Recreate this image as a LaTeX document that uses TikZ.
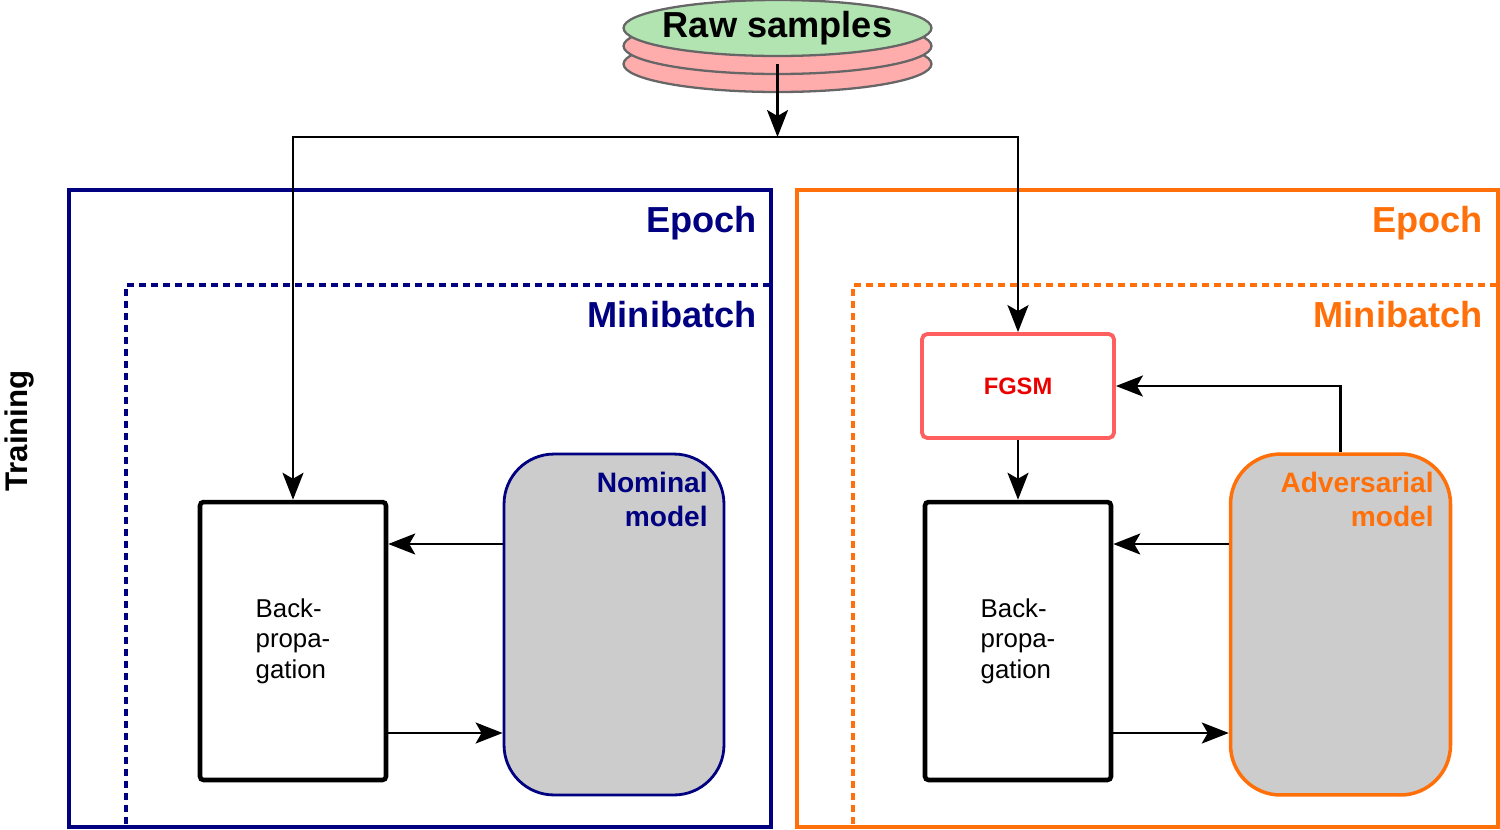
\documentclass[tikz,border=0pt]{standalone}
\usepackage{fontspec}
\setmainfont{Liberation Sans}
\usetikzlibrary{arrows.meta,shapes.geometric}
\definecolor{navyc}{RGB}{0,0,128}
\definecolor{orangec}{RGB}{255,112,10}
\definecolor{fgsmborder}{RGB}{255,95,95}
\definecolor{fgsmtext}{RGB}{235,0,0}
\definecolor{modelfill}{RGB}{204,204,204}
\definecolor{rawgreen}{RGB}{178,228,178}
\definecolor{rawred}{RGB}{255,172,172}
\definecolor{rawedge}{RGB}{102,102,102}
\begin{document}
\begin{tikzpicture}[x=0.02cm,y=-0.02cm,
  epochbox/.style={draw, line width=2.1pt, minimum width=14.04cm, minimum height=12.74cm, inner sep=0},
  mbbox/.style={draw, line width=2pt, dash pattern=on 0.15cm off 0.09cm, minimum width=12.9cm, minimum height=10.84cm, inner sep=0},
  lbl/.style={font=\fontsize{20.6pt}{24pt}\selectfont\bfseries, inner sep=0},
  modelbox/.style={rounded corners=1cm, fill=modelfill, minimum width=4.4cm, minimum height=6.82cm, inner sep=0},
  mlbl/.style={font=\fontsize{16pt}{19.8pt}\selectfont\bfseries, align=right, inner sep=0, anchor=east},
  bpbox/.style={draw=black, line width=2.6pt, rounded corners=2pt, minimum width=3.72cm, minimum height=5.56cm, align=left, inner sep=0, font=\fontsize{14.7pt}{17.3pt}\selectfont},
  fgsmbox/.style={draw=fgsmborder, line width=2.2pt, rounded corners=3pt, fill=white, minimum width=3.84cm, minimum height=2.08cm, inner sep=0, text=fgsmtext, font=\fontsize{13.5pt}{16pt}\selectfont\bfseries},
  rawell/.style={ellipse, draw=rawedge, line width=1.3pt, minimum width=6.16cm, minimum height=1.12cm, inner sep=0},
  conn/.style={draw=black, line width=1.4pt},
  arr/.style={conn, -{Stealth[length=0.54cm, width=0.42cm, inset=0.12cm]}}
]
\useasboundingbox (0,0) rectangle (1500,829);

% containers
\node[mbbox, draw=navyc] (mb1) at (448.5,556) {};
\node[epochbox, draw=navyc] (ep1) at (420,508.5) {};
\node[mbbox, draw=orangec] (mb2) at (1175.5,556) {};
\node[epochbox, draw=orangec, minimum width=14.02cm] (ep2) at (1147.5,508.5) {};

\node[lbl, text=navyc, anchor=base east] (ep1lbl) at (757,232) {Epoch};
\node[lbl, text=navyc, anchor=base east] (mb1lbl) at (757,327) {Minibatch};
\node[lbl, text=orangec, anchor=base east] (ep2lbl) at (1483,232) {Epoch};
\node[lbl, text=orangec, anchor=base east] (mb2lbl) at (1483,327) {Minibatch};

\node[lbl, font=\fontsize{17.8pt}{20pt}\selectfont\bfseries, rotate=90, anchor=base] (train) at (28,431) {Training};

% raw samples stack
\node[rawell, fill=rawred] (rawc) at (777.5,64) {};
\node[rawell, fill=rawred] (rawb) at (777.5,46) {};
\node[rawell, fill=rawgreen] (raw) at (777.5,28) {};
\node[font=\fontsize{20.6pt}{24pt}\selectfont\bfseries, inner sep=0] (rawlbl) at (raw.center) {Raw samples};

% left side
\node[bpbox] (bp1) at (293,641) {Back-\\propa-\\gation};
\node[modelbox, draw=navyc, line width=1.6pt] (nom) at (614,624.5) {};
\node[mlbl, text=navyc] (nomlbl) at (708,499.5) {Nominal\\model};

% right side
\node[fgsmbox] (fgsm) at (1018,386) {FGSM};
\node[bpbox] (bp2) at (1018,641) {Back-\\propa-\\gation};
\node[modelbox, draw=orangec, line width=2pt] (adv) at (1340.5,624.5) {};
\node[mlbl, text=orangec] (advlbl) at (1434,499.5) {Adversarial\\model};

% connectors
\coordinate (split) at (777.5,137);
\coordinate (rowA) at (0,544);
\coordinate (rowB) at (0,733);
\draw[arr] (rawc.center) -- (split);
\draw[arr] (split) -| (bp1.north);
\draw[arr] (split) -| (fgsm.north);
\draw[arr] (nom.west |- rowA) -- (bp1.east |- rowA);
\draw[arr] (bp1.east |- rowB) -- (nom.west |- rowB);
\draw[arr] (adv.west |- rowA) -- (bp2.east |- rowA);
\draw[arr] (bp2.east |- rowB) -- (adv.west |- rowB);
\draw[arr] (adv.north) |- (fgsm.east);
\draw[arr] (fgsm.south) -- (bp2.north);
\end{tikzpicture}
\end{document}
